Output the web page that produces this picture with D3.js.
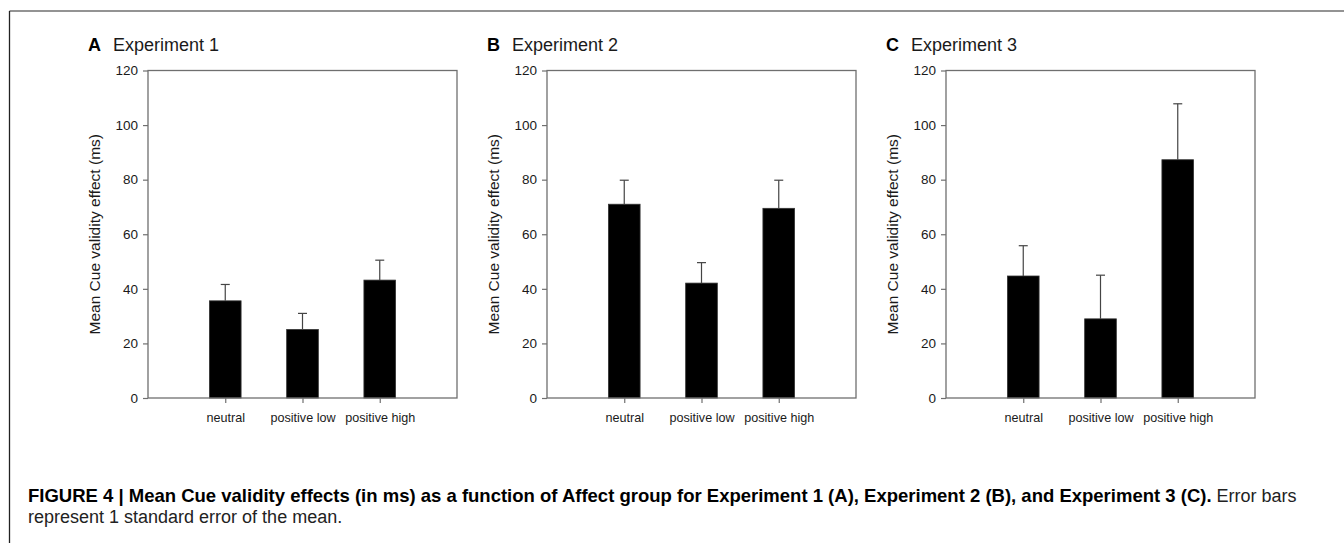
<!DOCTYPE html>
<html>
<head>
<meta charset="utf-8">
<script src="https://d3js.org/d3.v7.min.js"></script>
<style>
	body { margin: 0; background: #fff; }
	svg { display: block; font-family: 'Liberation Sans', Arial, sans-serif; }
	.tick text { fill: #1a1a1a; }
</style>
</head>
<body>
<div class="view-container"></div>
<script>
'use strict';

var WIDTH = 1344;
var HEIGHT = 543;
var FRAME_GRAY = '#6f6f6f';
var TEXT_DARK = '#1a1a1a';

// data
var categories = ['neutral', 'positive low', 'positive high'];
var panelLetters = ['A', 'B', 'C'];
var panelTitles = ['Experiment 1', 'Experiment 2', 'Experiment 3'];
var exp1Means = [35.6, 25.1, 43.2];
var exp1Errors = [6.0, 5.9, 7.3];
var exp2Means = [71.0, 42.1, 69.5];
var exp2Errors = [8.8, 7.5, 10.3];
var exp3Means = [44.7, 29.0, 87.3];
var exp3Errors = [11.1, 16.0, 20.5];
var yTicks = [0, 20, 40, 60, 80, 100, 120];
var yDomain = [0, 120];
var yLabel = 'Mean Cue validity effect (ms)';
var captionBold = 'FIGURE 4 | Mean Cue validity effects (in ms) as a function of Affect group for Experiment 1 (A), Experiment 2 (B), and Experiment 3 (C).';
var captionRest = ' Error bars';
var captionLine2 = 'represent 1 standard error of the mean.';

var means = [exp1Means, exp2Means, exp3Means];
var errors = [exp1Errors, exp2Errors, exp3Errors];

var svg = d3.select('.view-container').append('svg')
	.attr('width', WIDTH)
	.attr('height', HEIGHT);

// outer figure frame: top rule and left rule only
svg.append('line')
	.attr('x1', 9.5).attr('x2', WIDTH)
	.attr('y1', 11).attr('y2', 11)
	.style('stroke', FRAME_GRAY)
	.style('stroke-width', 1.5);
svg.append('line')
	.attr('x1', 9.5).attr('x2', 9.5)
	.attr('y1', 11).attr('y2', HEIGHT)
	.style('stroke', '#222')
	.style('stroke-width', 1.3);

var plot = { top: 70.5, bottom: 398, width: 309 };
var plotLefts = [148, 547, 946];

var y = d3.scaleLinear()
	.domain(yDomain)
	.range([plot.bottom, plot.top]);

function drawPanel(i) {
	var left = plotLefts[i];
	var g = svg.append('g').attr('transform', 'translate(' + left + ',0)');

	var x = d3.scalePoint()
		.domain(categories)
		.range([0, plot.width])
		.padding(1);
	var barWidth = x.step() * 0.41;

	var rows = categories.map(function(c, k) {
		return { cat: c, mean: means[i][k], err: errors[i][k] };
	});

	// bars
	g.selectAll('rect.bar').data(rows).enter().append('rect')
		.attr('class', 'bar')
		.attr('x', function(d) { return x(d.cat) - barWidth / 2; })
		.attr('width', barWidth)
		.attr('y', function(d) { return y(d.mean); })
		.attr('height', function(d) { return y(0) - y(d.mean); })
		.style('fill', '#000')
		.style('stroke', '#333')
		.style('stroke-width', 0.8);

	// error bars (upper half only)
	var eb = g.selectAll('g.err').data(rows).enter().append('g').attr('class', 'err');
	eb.append('line')
		.attr('x1', function(d) { return x(d.cat); })
		.attr('x2', function(d) { return x(d.cat); })
		.attr('y1', function(d) { return y(d.mean); })
		.attr('y2', function(d) { return y(d.mean + d.err); })
		.style('stroke', '#444')
		.style('stroke-width', 1.2);
	eb.append('line')
		.attr('x1', function(d) { return x(d.cat) - 4.5; })
		.attr('x2', function(d) { return x(d.cat) + 4.5; })
		.attr('y1', function(d) { return y(d.mean + d.err); })
		.attr('y2', function(d) { return y(d.mean + d.err); })
		.style('stroke', '#444')
		.style('stroke-width', 1.2);

	// plot box
	g.append('rect')
		.attr('x', 0).attr('y', plot.top)
		.attr('width', plot.width)
		.attr('height', plot.bottom - plot.top)
		.style('fill', 'none')
		.style('stroke', FRAME_GRAY)
		.style('stroke-width', 1.3);

	var yAxis = g.append('g')
		.call(d3.axisLeft(y).tickValues(yTicks).tickSize(5).tickPadding(5));
	yAxis.select('.domain').remove();
	yAxis.selectAll('.tick line').style('stroke', FRAME_GRAY).style('stroke-width', 1.2);
	yAxis.selectAll('.tick text')
		.style('font-size', '13.5px')
		.attr('font-family', null);

	var xAxis = g.append('g')
		.attr('transform', 'translate(0,' + plot.bottom + ')')
		.call(d3.axisBottom(x).tickSize(5).tickPadding(10));
	xAxis.select('.domain').remove();
	xAxis.selectAll('.tick line').style('stroke', FRAME_GRAY).style('stroke-width', 1.2);
	xAxis.selectAll('.tick text')
		.style('font-size', '12.6px')
		.attr('font-family', null);

	svg.append('text')
		.attr('transform', 'translate(' + (left - 48) + ',' + ((plot.top + plot.bottom) / 2) + ') rotate(-90)')
		.attr('text-anchor', 'middle')
		.style('font-size', '15.5px')
		.style('fill', TEXT_DARK)
		.text(yLabel);

	// panel heading
	svg.append('text')
		.attr('x', left - 60)
		.attr('y', 50.5)
		.style('font-size', '18px')
		.style('font-weight', 'bold')
		.style('fill', '#000')
		.text(panelLetters[i]);
	svg.append('text')
		.attr('x', left - 35)
		.attr('y', 50.5)
		.style('font-size', '18px')
		.style('fill', TEXT_DARK)
		.text(panelTitles[i]);
}

panelLetters.forEach(function(l, i) { drawPanel(i); });

var cap = svg.append('text')
	.attr('x', 28)
	.attr('y', 502)
	.style('fill', '#000');
cap.append('tspan')
	.style('font-weight', 'bold')
	.style('font-size', '18.5px')
	.text(captionBold);
cap.append('tspan')
	.style('font-size', '18px')
	.style('fill', '#222')
	.text(captionRest);

svg.append('text')
	.attr('x', 28)
	.attr('y', 523)
	.style('font-size', '18px')
	.style('fill', '#222')
	.text(captionLine2);
</script>
</body>
</html>
